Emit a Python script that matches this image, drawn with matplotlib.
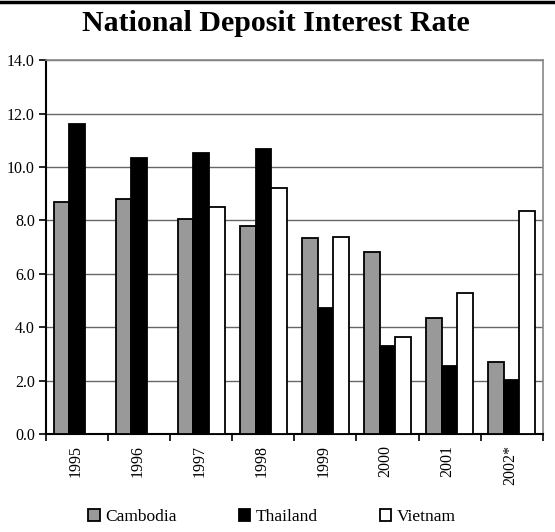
import numpy as np
import matplotlib.pyplot as plt
from matplotlib.lines import Line2D

# データ
years = ["1995", "1996", "1997", "1998", "1999", "2000", "2001", "2002*"]
cambodia = [8.70, 8.80, 8.05, 7.79, 7.34, 6.83, 4.35, 2.69]
thailand = [11.60, 10.35, 10.53, 10.67, 4.73, 3.30, 2.55, 2.01]
vietnam = [np.nan, np.nan, 8.51, 9.22, 7.38, 3.65, 5.29, 8.34]

plt.rcParams['font.family'] = ['Liberation Serif', 'DejaVu Serif']

fig = plt.figure(figsize=(5.55, 5.32), dpi=100)
ax = fig.add_axes([46 / 555, 1 - 434 / 532, (542.7 - 46) / 555, (434 - 60.3) / 532])

x = np.arange(len(years))
w = 0.25
ax.bar(x - w, cambodia, w, color="#999999", edgecolor="black", linewidth=1.3, label="Cambodia", zorder=3)
ax.bar(x, thailand, w, color="black", edgecolor="black", linewidth=1.3, label="Thailand", zorder=3)
ax.bar(x + w, vietnam, w, color="white", edgecolor="black", linewidth=1.3, label="Vietnam", zorder=3)

ax.set_xlim(-0.5, len(years) - 0.5)
ax.set_ylim(0, 14)
ax.set_yticks(np.arange(0, 14.1, 2))
ax.set_yticklabels([f"{v:.1f}" for v in np.arange(0, 14.1, 2)], fontsize=11.5)
ax.grid(axis="y", color="#666666", linewidth=1.0, zorder=0)

# x軸: カテゴリ間の目盛り
ax.set_xticks(np.arange(-0.5, len(years), 1))
ax.set_xticklabels([])
ax.set_xticks(x - 0.03, minor=True)
ax.set_xticklabels(years, minor=True, rotation=90, fontsize=11.5)
ax.tick_params(axis="x", which="minor", length=0, pad=8)
ax.tick_params(axis="x", which="major", length=5, width=1.2, direction="out")
ax.tick_params(axis="y", length=5, width=1.2, direction="out", pad=3)

for side in ["top", "right"]:
    ax.spines[side].set_color("#888888")
    ax.spines[side].set_linewidth(1.2)
for side in ["left", "bottom"]:
    ax.spines[side].set_color("black")
    ax.spines[side].set_linewidth(1.5)

fig.text(0.497, 1 - 31 / 532, "National Deposit Interest Rate", ha="center", va="baseline",
         fontsize=21.5, fontweight="bold")

# 上端の太線
fig.add_artist(Line2D([0, 1], [1 - 1.5 / 532, 1 - 1.5 / 532], color="black", linewidth=2.5,
                      transform=fig.transFigure))

fig.legend(loc="center", bbox_to_anchor=(0.49, 1 - 517 / 532), ncol=3, frameon=False,
           fontsize=12.5, handlelength=0.65, handleheight=0.65, handletextpad=0.3,
           columnspacing=3.6)

plt.savefig("out.png", dpi=100)
